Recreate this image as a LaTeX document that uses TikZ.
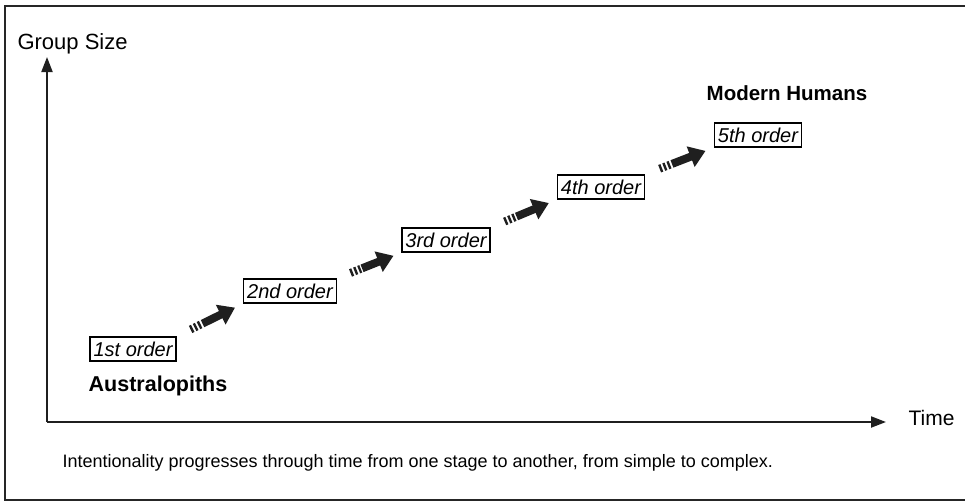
\documentclass[tikz,border=0pt]{standalone}
\usepackage{fontspec}
\setmainfont{Liberation Sans}
\usepackage{tikz}
\usetikzlibrary{arrows.meta}
\usetikzlibrary{calc}

\begin{document}
\begin{tikzpicture}[x=1pt,y=-1pt]
\tikzset{>={Triangle[width=11pt,length=15pt]}}
\tikzstyle{order} =[draw, line width=1.4pt, inner xsep=3.5pt, inner ysep=0pt, minimum height=24pt,
  font=\fontsize{20}{22}\selectfont\itshape]
\tikzstyle{era} =[font=\fontsize{21.5}{24}\selectfont\bfseries]
\tikzset{stripes/.style={line width=8pt, dash pattern=on 2.4pt off 2pt, color=black!88},
  fatarrow/.style={line width=8pt, color=black!88, -{Triangle[width=21pt,length=16pt]}}}
\useasboundingbox (0,0) rectangle (965,503);

\draw[line width=2.6pt, black!85] (975,6) -- (5,6) -- (5,500) -- (975,500);

\coordinate (O) at (47,422);
\coordinate (ytop) at (47,57);
\coordinate (xend) at (886,422);
\draw[line width=2pt, black!88, ->] (O) -- (ytop);
\draw[line width=2pt, black!88, ->] (O) -- (xend);

\node[anchor=west, font=\fontsize{22}{24}\selectfont](gs) at (14,44){Group Size};
\node[anchor=west, font=\fontsize{21}{24}\selectfont](tm) at (905,418){Time};

\node[order](o1) at (133,349){1st order};
\node[order](o2) at (290,291){2nd order};
\node[order](o3) at (446,240){3rd order};
\node[order](o4) at (601,187){4th order};
\node[order](o5) at (758,135){5th order};

\node[era](aus) at (158,386){Australopiths};
\node[era, font=\fontsize{20.5}{24}\selectfont\bfseries](mh) at (787,93){Modern Humans};

\foreach \a/\b in {o1/o2,o2/o3,o3/o4,o4/o5}{
  \draw[stripes] ($(\a.north east)!0.21!(\b.south west)$) -- ($(\a.north east)!0.37!(\b.south west)$);
  \draw[fatarrow] ($(\a.north east)!0.39!(\b.south west)$) -- ($(\a.north east)!0.88!(\b.south west)$);
}

\node[anchor=west, font=\fontsize{18}{20}\selectfont](cap) at (59,463)
  {Intentionality progresses through time from one stage to another, from simple to complex.};
\end{tikzpicture}
\end{document}
